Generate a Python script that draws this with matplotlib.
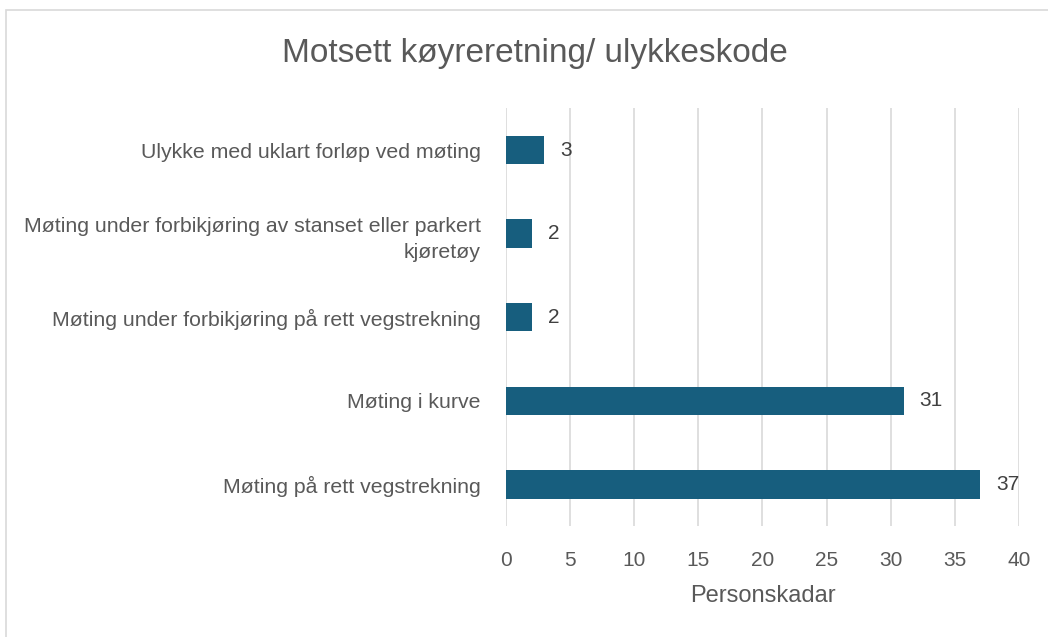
import matplotlib
matplotlib.use("Agg")
import matplotlib.pyplot as plt
from matplotlib.patches import Rectangle

# data (bottom to top as drawn)
categories = ["Møting på rett vegstrekning",
              "Møting i kurve",
              "Møting under forbikjøring på rett vegstrekning",
              "Møting under forbikjøring av stanset eller parkert\nkjøretøy",
              "Ulykke med uklart forløp ved møting"]
values = [37, 31, 2, 2, 3]
xticks = [0, 5, 10, 15, 20, 25, 30, 35, 40]

BAR = "#175e7e"
GREY = "#595959"
GRID = "#d9d9d9"

plt.rcParams["font.family"] = ["Liberation Sans", "DejaVu Sans"]

fig = plt.figure(figsize=(10.48, 6.37), dpi=100, facecolor="white")
ax = fig.add_axes([0.4828, 0.174, 0.4895, 0.656])

y = range(len(categories))
ax.barh(y, values, height=0.34, color=BAR, zorder=3)
for yi, v in zip(y, values):
    ax.text(v + 1.25, yi, str(v), va="center", ha="left", fontsize=15, color="#404040")

ax.set_xlim(0, 40)
ax.set_ylim(-0.5, len(categories) - 0.5)
ax.set_xticks(xticks)
ax.set_yticks(list(y))
ax.set_yticklabels(categories, fontsize=15.3, color=GREY, linespacing=1.5)
ax.tick_params(axis="x", labelsize=15, colors=GREY, length=0, pad=18)
ax.tick_params(axis="y", length=0, pad=18)
for lab in ax.get_yticklabels():
    lab.set_horizontalalignment("right")
    lab.set_multialignment("right")
ax.grid(axis="x", color=GRID, linewidth=1.2, zorder=0)
for s in ax.spines.values():
    s.set_visible(False)

ax.set_xlabel("Personskadar", fontsize=17, color=GREY, labelpad=11)
fig.text(0.51, 0.916, "Motsett køyreretning/ ulykkeskode", ha="center", va="center",
         fontsize=24, color=GREY)

# chart frame (only top/left visible in the crop)
fig.patches.append(Rectangle((6 / 1048, -0.1), 1.2, 1 - 10 / 637 + 0.1, transform=fig.transFigure,
                             fill=False, edgecolor=GRID, linewidth=1.2))

fig.savefig("out.png", dpi=100, facecolor="white")
